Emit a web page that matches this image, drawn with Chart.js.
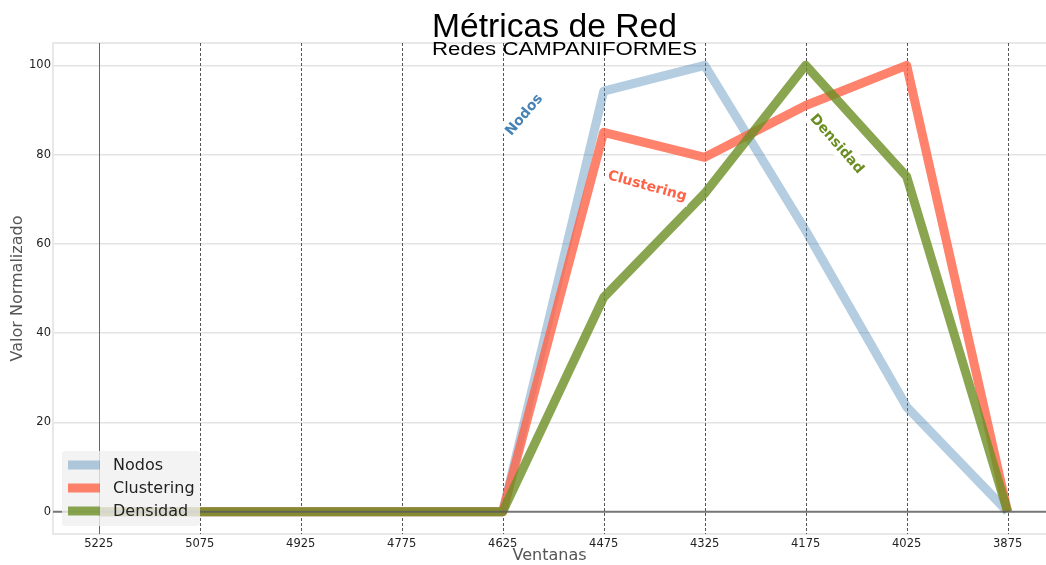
<!DOCTYPE html>
<html>
<head>
<meta charset="utf-8">
<script src="https://cdn.jsdelivr.net/npm/chart.js@4.4.1/dist/chart.umd.min.js"></script>
<style>
  html, body { margin: 0; padding: 0; background: #fff; }
  #wrap { width: 1046px; height: 565px; }
</style>
</head>
<body>
<div id="wrap"><canvas id="myChart" width="1046" height="565"></canvas></div>
<script>
// Data
const ventanas = [5225, 5075, 4925, 4775, 4625, 4475, 4325, 4175, 4025, 3875];
const nodos = [0, 0, 0, 0, 0, 94.2, 100, 63, 23.5, 0];
const clustering = [0, 0, 0, 0, 0, 85, 79.4, 91, 100, 0];
const densidad = [0, 0, 0, 0, 0, 48, 71.3, 100, 75.1, 0];
const yTicks = [0, 20, 40, 60, 80, 100];
const seriesNames = ['Nodos', 'Clustering', 'Densidad'];

const colors = ['rgba(70, 130, 180, 0.4)', 'rgba(255, 99, 71, 0.8)', 'rgba(107, 142, 35, 0.8)'];
const textColors = ['rgb(70, 130, 180)', 'rgb(255, 99, 71)', 'rgb(107, 142, 35)'];

// inline labels next to the lines (data coords + rotation in degrees)
const inlineLabels = [
    { text: 'Nodos', x: 4594, y: 89, angle: -50, color: textColors[0] },
    { text: 'Clustering', x: 4410, y: 73.1, angle: 15.5, color: textColors[1] },
    { text: 'Densidad', x: 4128, y: 82.5, angle: 49, color: textColors[2] }
];

Chart.defaults.font.family = 'DejaVu Sans';

function toPoints(values) {
    return values.map((v, i) => ({ x: ventanas[i], y: v }));
}

const decorPlugin = {
    id: 'decor',
    beforeDatasetsDraw(chart) {
        const { ctx, chartArea: a, scales: { x } } = chart;
        ctx.save();
        // light frame round the plot
        ctx.strokeStyle = '#e8e8e8';
        ctx.lineWidth = 2;
        ctx.strokeRect(a.left, a.top, a.right - a.left + 2, a.bottom - a.top);
        // vertical lines at every window
        ventanas.forEach((v, i) => {
            const px = Math.round(x.getPixelForValue(v)) + 0.5;
            ctx.beginPath();
            ctx.setLineDash(i === 0 ? [] : [3, 2]);
            ctx.strokeStyle = i === 0 ? '#666' : '#555';
            ctx.lineWidth = 1;
            ctx.moveTo(px, a.top);
            ctx.lineTo(px, a.bottom);
            ctx.stroke();
        });
        ctx.restore();
    },
    afterDatasetsDraw(chart) {
        const { ctx, chartArea: a, scales: { x, y } } = chart;
        ctx.save();
        // zero line
        const py0 = y.getPixelForValue(0);
        ctx.strokeStyle = 'rgba(90, 90, 90, 0.8)';
        ctx.lineWidth = 2;
        ctx.beginPath();
        ctx.moveTo(a.left, py0);
        ctx.lineTo(a.right, py0);
        ctx.stroke();

        // inline labels with white box
        ctx.font = 'bold 14px "DejaVu Sans"';
        ctx.textAlign = 'center';
        ctx.textBaseline = 'middle';
        inlineLabels.forEach(l => {
            const px = x.getPixelForValue(l.x);
            const py = y.getPixelForValue(l.y);
            const w = ctx.measureText(l.text).width;
            ctx.save();
            ctx.translate(px, py);
            ctx.rotate(l.angle * Math.PI / 180);
            ctx.fillStyle = '#fff';
            ctx.fillRect(-w / 2 - 3, -10, w + 6, 20);
            ctx.fillStyle = l.color;
            ctx.fillText(l.text, 0, 1);
            ctx.restore();
        });

        // legend, bottom left
        ctx.fillStyle = 'rgba(240, 240, 240, 0.8)';
        ctx.beginPath();
        ctx.roundRect(62, 451, 138, 75, 3);
        ctx.fill();
        ctx.font = '16px "DejaVu Sans"';
        ctx.textAlign = 'left';
        ctx.textBaseline = 'middle';
        seriesNames.forEach((name, i) => {
            const ly = 465 + i * 23;
            ctx.strokeStyle = colors[i];
            ctx.lineWidth = 9;
            ctx.beginPath();
            ctx.moveTo(68, ly);
            ctx.lineTo(100, ly);
            ctx.stroke();
            ctx.fillStyle = '#222';
            ctx.fillText(name, 113, ly + 1);
        });
        ctx.restore();
    },
    afterDraw(chart) {
        const ctx = chart.ctx;
        ctx.save();
        ctx.fillStyle = '#000';
        ctx.textAlign = 'left';
        ctx.textBaseline = 'alphabetic';
        // title
        ctx.font = '33px "Liberation Sans"';
        let w = ctx.measureText('Métricas de Red').width;
        ctx.translate(432, 37);
        ctx.scale(245 / w, 1);
        ctx.fillText('Métricas de Red', 0, 0);
        ctx.restore();
        // subtitle (wide)
        ctx.save();
        ctx.fillStyle = '#000';
        ctx.textAlign = 'left';
        ctx.font = '18px "Liberation Sans"';
        w = ctx.measureText('Redes CAMPANIFORMES').width;
        ctx.translate(432, 55);
        ctx.scale(265 / w, 1);
        ctx.fillText('Redes CAMPANIFORMES', 0, 0);
        ctx.restore();
    }
};

const ctx = document.getElementById('myChart').getContext('2d');
window.myChart = new Chart(ctx, {
    type: 'line',
    data: {
        datasets: [
            { label: seriesNames[0], data: toPoints(nodos), borderColor: colors[0], order: 3 },
            { label: seriesNames[1], data: toPoints(clustering), borderColor: colors[1], order: 2 },
            { label: seriesNames[2], data: toPoints(densidad), borderColor: colors[2], order: 1 }
        ]
    },
    options: {
        responsive: false,
        animation: false,
        layout: { padding: { top: 43, left: 0, right: 0, bottom: 0 } },
        elements: {
            line: { borderWidth: 9, tension: 0, fill: false, borderJoinStyle: 'round', borderCapStyle: 'butt' },
            point: { radius: 0, hoverRadius: 0 }
        },
        plugins: {
            legend: { display: false },
            tooltip: { enabled: false }
        },
        scales: {
            x: {
                type: 'linear',
                reverse: true,
                min: 3818,
                max: 5293,
                afterBuildTicks: scale => { scale.ticks = ventanas.map(v => ({ value: v })); },
                afterFit: scale => { scale.height = 31; },
                grid: { display: false },
                border: { display: false },
                ticks: { color: '#222', font: { size: 11.5 }, padding: -5, autoSkip: false, maxRotation: 0, callback: v => String(v) },
                title: { display: true, text: 'Ventanas', color: '#555', font: { size: 16, lineHeight: 1 }, padding: { top: 0, bottom: 1 } }
            },
            y: {
                min: -5,
                max: 105,
                afterBuildTicks: scale => { scale.ticks = yTicks.map(v => ({ value: v })); },
                afterFit: scale => { scale.width = 53; },
                grid: { color: '#e3e3e3', lineWidth: 1.5, drawTicks: false },
                border: { display: false },
                ticks: { color: '#222', font: { size: 11.5 }, padding: 2 },
                title: { display: true, text: 'Valor Normalizado', color: '#555', font: { size: 16, lineHeight: 1 }, padding: { top: 10, bottom: 0 } }
            }
        }
    },
    plugins: [decorPlugin]
});
</script>
</body>
</html>
